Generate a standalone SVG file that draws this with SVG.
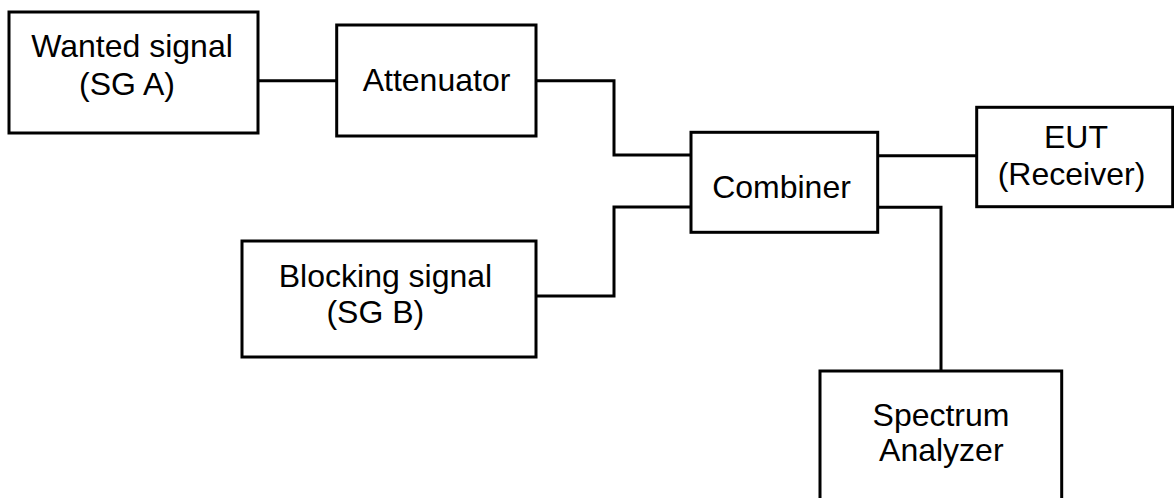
<svg xmlns="http://www.w3.org/2000/svg" width="1174" height="498" viewBox="0 0 1174 498">
<style>
.box{fill:#fff;stroke:#000;stroke-width:3}
.wire{fill:none;stroke:#000;stroke-width:3;stroke-linejoin:miter}
text{font-family:"Liberation Sans",Arial,sans-serif;font-size:32px;fill:#000;text-anchor:middle}
</style>
<rect width="1174" height="498" fill="#fff"/>
<g id="connectors">
<path class="wire" d="M258 80.7H337"/>
<path class="wire" d="M536 80.7H614V155H691"/>
<path class="wire" d="M536 296H614V207H691"/>
<path class="wire" d="M877.7 155.7H976.7"/>
<path class="wire" d="M877.7 207.3H941V371"/>
</g>
<g id="wanted">
<rect class="box" x="9" y="12" width="249" height="121"/>
<text x="132" y="57.3">Wanted signal</text>
<text x="127" y="94.5">(SG A)</text>
</g>
<g id="attenuator">
<rect class="box" x="336.7" y="25" width="199.3" height="111"/>
<text x="436.5" y="90.7">Attenuator</text>
</g>
<g id="combiner">
<rect class="box" x="691" y="132.3" width="186.7" height="100"/>
<text x="781.5" y="198.3">Combiner</text>
</g>
<g id="eut">
<rect class="box" x="976.7" y="107.3" width="196" height="99.4"/>
<text x="1076" y="148.3">EUT</text>
<text x="1071.5" y="185">(Receiver)</text>
</g>
<g id="blocking">
<rect class="box" x="242" y="241" width="294" height="116"/>
<text x="385.5" y="286.7">Blocking signal</text>
<text x="375.3" y="322.7">(SG B)</text>
</g>
<g id="spectrum">
<rect class="box" x="820" y="371" width="241.7" height="140"/>
<text x="941" y="426">Spectrum</text>
<text x="941.3" y="460.7">Analyzer</text>
</g>
</svg>
